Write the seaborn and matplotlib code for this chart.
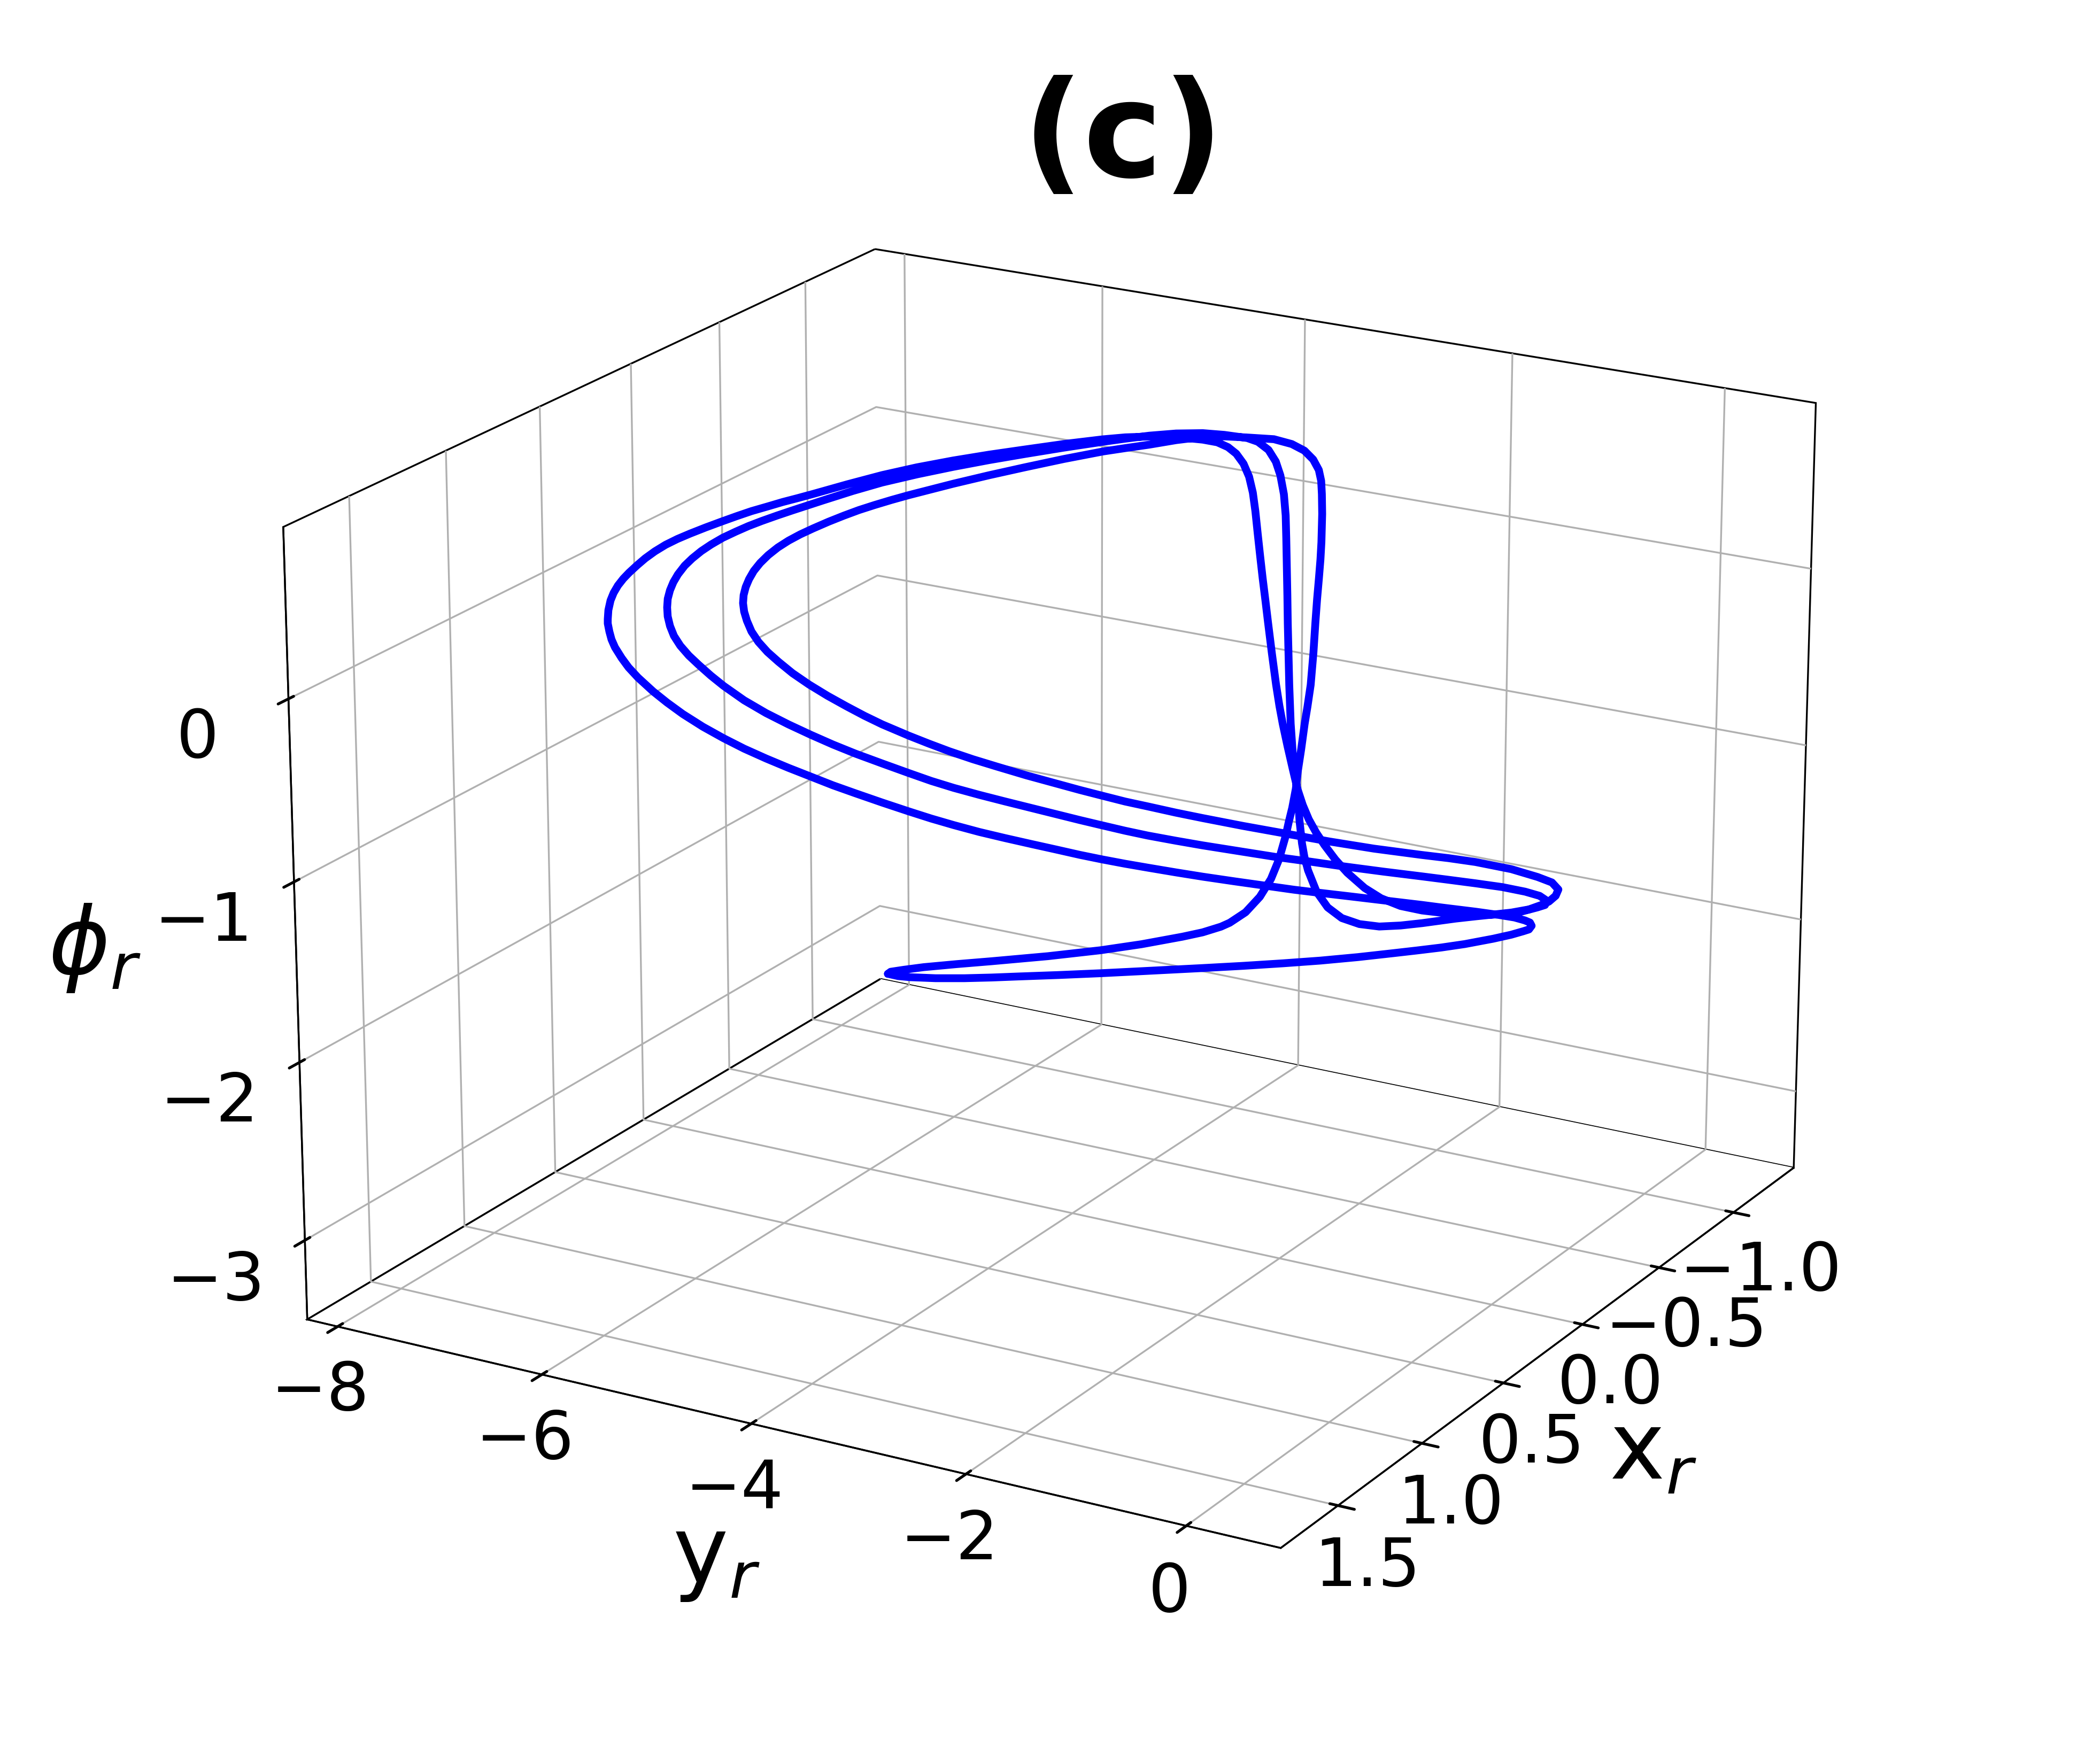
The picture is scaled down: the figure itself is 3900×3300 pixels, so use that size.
import numpy as np
import seaborn as sns
import matplotlib
matplotlib.use('Agg')
import matplotlib.pyplot as plt

# trajectory, one value per read point (x in 1/100, y and phi in 1/1000)
x_r = [-125,-124,-123,-122,-120,-118,-116,-113,-110,-107,-105,-103,-100,-98,-95,-92,-90,-88,-87,-85,-83,-82,-81,-80,
       -80,-79,-78,-76,-74,-69,-64,-60,-54,-46,-41,-37,-31,-26,-20,-15,-10,-6,-2,2,6,11,16,20,
       25,29,34,39,44,48,52,56,61,65,69,73,78,81,84,88,90,92,95,96,98,99,100,98,
       96,94,92,90,89,86,84,81,79,76,73,69,66,62,59,55,52,49,45,37,30,22,14,6,
       -1,-10,-18,-23,-28,-34,-40,-38,-37,-36,-35,-33,-32,-30,-27,-25,-23,-20,-18,-15,-11,-9,-7,-5,
       -2,0,-4,-7,-11,-14,-18,-22,-27,-32,-36,-41,-46,-51,-54,-58,-63,-67,-69,-70,-69,-66,-63,-58,
       -54,-49,-43,-36,-31,-28,-26,-20,-14,-9,-5,-1,3,7,11,15,19,24,28,32,35,40,45,49,
       53,56,61,65,69,71,74,76,78,80,82,84,85,83,82,80,78,76,74,71,69,66,64,61,
       58,55,52,45,39,33,26,19,11,4,-4,-11,-16,-21,-26,-31,-35,-40,-39,-37,-36,-34,-32,-30,
       -28,-25,-22,-19,-15,-12,-8,-5,-2,0,-4,-8,-10,-12,-16,-19,-22,-25,-29,-32,-36,-42,-45,-48,
       -51,-54,-56,-57,-59,-60,-59,-57,-53,-48,-44,-41,-34,-28,-22,-16,-11,-7,-3,0,3,6,9,14,
       18,21,24,27,30,34,37,40,42,45,48,51,52,54,56,58,59,60,59,57,55,54,52,50,
       48,45,43,40,37,34,32,29,25,22,14,7,1,-7,-14,-18,-22,-27,-32,-36,-40,-37,-35,-34,
       -33,-31,-30,-29,-27,-24,-22,-20,-18,-15,-12,-9,-7,-5,-2,0,-5,-9,-13,-16,-22,-27,-32,-37,
       -42,-44,-49,-54,-64,-73,-86,-100,-108,-116,-121,-124,-125]
y_r = [-7939,-7815,-7675,-7391,-7058,-6743,-6430,-5976,-5499,-5041,-4596,-4362,-3918,-3492,-3080,-2671,-2295,-2044,-1794,-1540,
       -1242,-1057,-929,-862,-837,-839,-873,-943,-1066,-1211,-1442,-1586,-1801,-2089,-2318,-2461,-2645,-2854,-3067,-3244,
       -3437,-3589,-3750,-3897,-4064,-4214,-4389,-4571,-4734,-4885,-5017,-5191,-5364,-5512,-5655,-5804,-5932,-6075,-6205,-6332,
       -6436,-6534,-6614,-6687,-6741,-6770,-6779,-6793,-6776,-6772,-6753,-6782,-6796,-6801,-6794,-6777,-6738,-6713,-6670,-6630,
       -6561,-6500,-6429,-6348,-6252,-6171,-6080,-5999,-5902,-5809,-5730,-5537,-5321,-5124,-4909,-4699,-4472,-4246,-4004,-3870,
       -3721,-3562,-3403,-3234,-3117,-3023,-2938,-2854,-2802,-2746,-2676,-2620,-2565,-2491,-2434,-2350,-2246,-2182,-2119,-2042,
       -1946,-1869,-1879,-1867,-1857,-1823,-1781,-1728,-1638,-1558,-1433,-1305,-1177,-1044,-942,-835,-707,-600,-558,-563,
       -610,-704,-877,-1055,-1249,-1428,-1706,-2027,-2220,-2326,-2458,-2711,-2975,-3151,-3358,-3510,-3671,-3816,-3982,-4147,
       -4339,-4503,-4683,-4832,-4998,-5171,-5343,-5491,-5635,-5798,-5928,-6069,-6197,-6284,-6345,-6405,-6451,-6475,-6476,-6461,
       -6447,-6476,-6471,-6473,-6463,-6432,-6393,-6359,-6299,-6239,-6148,-6077,-6000,-5903,-5804,-5632,-5451,-5271,-5051,-4826,
       -4616,-4390,-4149,-3891,-3758,-3610,-3436,-3262,-3122,-2983,-2866,-2735,-2650,-2575,-2510,-2461,-2423,-2371,-2316,-2264,
       -2194,-2138,-2060,-1992,-1916,-1863,-1908,-1944,-1951,-1946,-1924,-1864,-1775,-1654,-1527,-1371,-1229,-1003,-861,-720,
       -614,-493,-391,-351,-318,-308,-355,-461,-650,-913,-1105,-1312,-1660,-1989,-2328,-2626,-2929,-3121,-3327,-3495,
       -3670,-3834,-4014,-4216,-4436,-4614,-4789,-4936,-5081,-5270,-5390,-5513,-5661,-5787,-5893,-5977,-6065,-6117,-6148,-6156,
       -6164,-6156,-6167,-6181,-6183,-6154,-6126,-6082,-6023,-5971,-5891,-5819,-5721,-5626,-5512,-5412,-5316,-5202,-4909,-4683,
       -4439,-4197,-3939,-3790,-3626,-3451,-3277,-3138,-2983,-2685,-2486,-2352,-2254,-2170,-2132,-2109,-2074,-2033,-2010,-1992,
       -1977,-1945,-1915,-1892,-1889,-1884,-1868,-1866,-1961,-2054,-2147,-2221,-2374,-2525,-2707,-2920,-3149,-3265,-3520,-3795,
       -4356,-4903,-5644,-6444,-6934,-7412,-7707,-7893,-7939]
phi_r = [-3276,-3269,-3253,-3219,-3167,-3113,-3057,-2976,-2890,-2805,-2727,-2681,-2597,-2519,-2436,-2349,-2269,-2212,
         -2159,-2097,-2019,-1968,-1927,-1903,-1879,-1855,-1841,-1821,-1809,-1779,-1755,-1733,-1702,-1661,-1638,-1617,
         -1581,-1553,-1517,-1485,-1452,-1425,-1396,-1365,-1331,-1290,-1248,-1212,-1164,-1122,-1069,-1011,-951,-901,
         -847,-792,-727,-666,-600,-529,-443,-374,-305,-215,-154,-95,-21,26,82,132,163,199,
         240,271,302,331,363,391,423,450,483,506,528,550,576,595,617,630,650,666,
         677,710,748,771,791,805,822,831,842,842,837,821,793,805,795,773,731,678,
         600,513,411,300,198,97,-8,-152,-297,-398,-479,-583,-681,-774,-887,-982,-1078,-1161,
         -1259,-1350,-1454,-1531,-1583,-1622,-1650,-1672,-1680,-1687,-1687,-1671,-1664,-1643,-1618,-1588,-1565,-1536,
         -1516,-1489,-1460,-1424,-1395,-1378,-1369,-1332,-1295,-1261,-1233,-1201,-1166,-1131,-1094,-1057,-1019,-973,
         -932,-888,-846,-784,-721,-665,-605,-549,-473,-396,-308,-250,-182,-126,-66,-4,61,126,
         182,216,258,292,326,367,401,429,461,489,522,545,566,591,615,652,692,727,
         760,789,808,830,850,874,880,887,892,887,872,844,840,818,767,708,621,519,
         409,305,132,-1,-135,-291,-477,-622,-731,-818,-979,-1131,-1218,-1305,-1446,-1544,-1611,-1648,
         -1670,-1663,-1656,-1638,-1626,-1615,-1610,-1595,-1566,-1551,-1526,-1495,-1455,-1425,-1380,-1342,-1320,-1309,
         -1274,-1238,-1197,-1156,-1119,-1088,-1054,-1029,-999,-969,-936,-886,-839,-802,-761,-718,-673,-609,
         -558,-502,-449,-384,-317,-246,-196,-135,-70,-1,54,107,145,178,211,254,291,329,
         367,395,428,453,485,513,546,569,587,610,663,698,737,768,801,815,831,849,
         860,857,847,882,885,867,833,794,743,677,582,446,364,273,168,60,-89,-248,
         -355,-442,-563,-670,-812,-950,-1063,-1167,-1350,-1506,-1658,-1800,-1916,-1964,-2056,-2143,-2312,-2465,
         -2665,-2873,-2996,-3119,-3200,-3252,-3276]

x_ticks = [-1, -0.5, 0, 0.5, 1, 1.5]
y_ticks = [-8, -6, -4, -2, 0]
z_ticks = [-3, -2, -1, 0]

sns.set_theme(style='white', rc={'grid.color': '#b0b0b0', 'grid.linewidth': 0.8, 'text.color': 'black',
                                 'xtick.color': 'black', 'ytick.color': 'black', 'axes.labelcolor': 'black',
                                 'axes.edgecolor': 'black', 'axes.linewidth': 0.8})
plt.rcParams['font.family'] = ['DejaVu Sans']

fig = plt.figure(figsize=(13, 11), dpi=300)
ax = fig.add_axes([344.6 / 3900, 45 / 3300, 3210 / 3900, 3210 / 3300], projection='3d')
ax.view_init(elev=20, azim=30)

ax.plot(np.array(x_r) / 100, np.array(y_r) / 1000, np.array(phi_r) / 1000, color='blue', lw=3.5)

ax.set_xlim(-1.416, 1.832)
ax.set_ylim(-8.302, 0.842)
ax.set_zlim(-3.449, 0.926)
ax.set_xticks(x_ticks)
ax.set_yticks(y_ticks)
ax.set_zticks(z_ticks)
ax.tick_params(labelsize=30)
ax.tick_params(axis='z', pad=15)

for a in (ax.xaxis, ax.yaxis, ax.zaxis):
    a.set_pane_color((1, 1, 1, 1))
    a.pane.set_edgecolor('black')
    a.pane.set_linewidth(0.8)
    a.set_rotate_label(False)

ax.set_xlabel('x$_r$', fontsize=42, labelpad=21, rotation=0)
ax.set_ylabel('y$_r$', fontsize=42, labelpad=22, rotation=0)
ax.set_zlabel(r'$\phi_r$', fontsize=42, labelpad=30, rotation=0)
ax.set_title('(c)', fontsize=60, fontweight='bold', x=0.547, y=0.982)

fig.savefig('out.png')
